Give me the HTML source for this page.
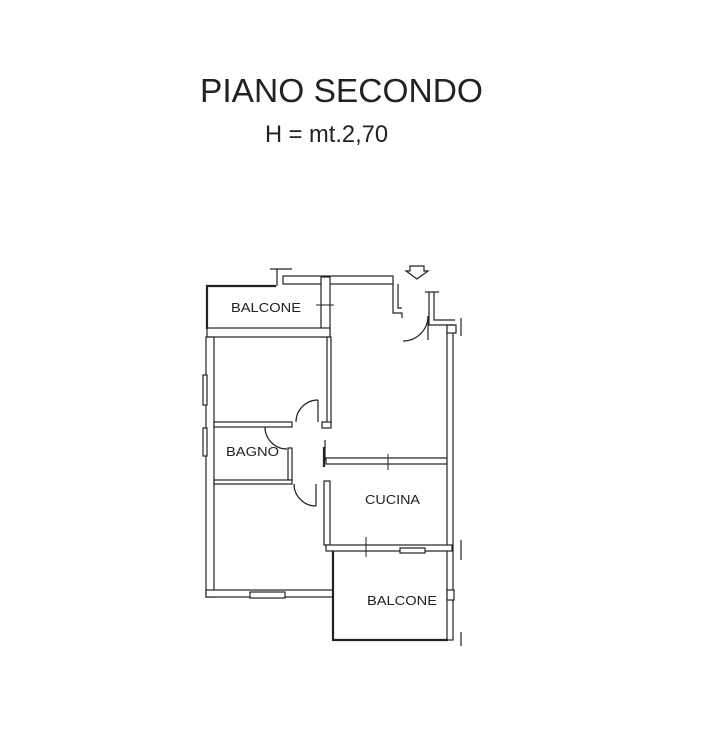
<!DOCTYPE html>
<html><head><meta charset="utf-8"><style>html,body{margin:0;padding:0;background:#fff}svg{display:block}</style></head>
<body>
<svg width="709" height="743" viewBox="0 0 709 743" xmlns="http://www.w3.org/2000/svg" font-family="Liberation Sans, sans-serif">
<text x="200" y="102" font-size="33" textLength="283" lengthAdjust="spacingAndGlyphs" fill="#222">PIANO SECONDO</text>
<text x="265" y="142" font-size="24" textLength="123" lengthAdjust="spacingAndGlyphs" fill="#222">H = mt.2,70</text>
<g fill="#fff" stroke="#222" stroke-width="1.2">
<!-- top wall -->
<rect x="283" y="276" width="110" height="8"/>
<line x1="270" y1="269" x2="292" y2="269"/>
<line x1="277" y1="269" x2="277" y2="286"/>
<!-- balcone top -->
<rect x="321" y="277" width="9" height="60"/>
<rect x="207" y="328" width="123" height="9"/>
<rect x="206" y="337" width="8" height="260"/>
<rect x="203" y="375" width="4" height="30"/>
<rect x="203" y="428" width="4" height="28"/>
<rect x="214" y="422" width="78" height="5"/>
<rect x="327" y="337" width="4" height="88"/>
<rect x="322" y="422" width="9" height="6"/>
<rect x="288" y="448" width="4" height="32"/>
<rect x="214" y="480" width="78" height="4"/>
<rect x="326" y="458" width="126" height="6"/>
<rect x="324" y="481" width="6" height="64"/>
<rect x="447" y="330" width="6" height="310"/>
<rect x="447" y="325" width="9" height="8"/>
<rect x="326" y="545" width="126" height="6"/>
<rect x="400" y="548" width="25" height="5"/>
<rect x="206" y="590" width="127" height="7"/>
<rect x="250" y="592" width="35" height="6"/>
<rect x="447" y="590" width="7" height="10"/>
<!-- entrance -->
<polyline fill="none" points="393,284 393,313 402,313 402,318"/>
<polyline fill="none" points="398,284 398,308 402,308"/>
<polyline fill="none" points="429,292 429,325 455,325"/>
<polyline fill="none" points="434,292 434,320 455,320"/>
<line x1="425" y1="292" x2="439" y2="292"/>
<line x1="461" y1="318" x2="461" y2="336"/>
<line x1="461" y1="540" x2="461" y2="560"/>
<line x1="461" y1="632" x2="461" y2="646"/>
<path fill="none" d="M403,341 A25,25 0 0 0 428,316"/>
<line x1="428" y1="316" x2="428" y2="340"/>
<!-- doors -->
<path fill="none" d="M296,422 A22,22 0 0 1 318,400"/>
<line x1="318" y1="400" x2="318" y2="422"/>
<path fill="none" d="M265,427 A22,22 0 0 0 287,449"/>
<path fill="none" d="M294,484 A22,22 0 0 0 316,506"/>
<line x1="316" y1="484" x2="316" y2="506"/>
<line x1="325" y1="440" x2="325" y2="460"/>
<polygon fill="none" points="410,266 424,266 424,271 428,271 417,279 406,271 410,271"/>
</g>
<g stroke="#222" stroke-width="2.2" fill="none">
<polyline points="207,329 207,286 276,286"/>
<polyline points="333,551 333,640 448,640"/>
<line x1="324" y1="447" x2="324" y2="467"/>
</g>
<g stroke="#222" stroke-width="1">
<line x1="316" y1="305" x2="334" y2="305"/>
<line x1="388" y1="454" x2="388" y2="470"/>
<line x1="366" y1="537" x2="366" y2="557"/>
</g>
<g font-size="13" fill="#222">
<text x="231" y="312" textLength="70" lengthAdjust="spacingAndGlyphs">BALCONE</text>
<text x="226" y="456" textLength="53" lengthAdjust="spacingAndGlyphs">BAGNO</text>
<text x="365" y="504" textLength="55" lengthAdjust="spacingAndGlyphs">CUCINA</text>
<text x="367" y="605" textLength="70" lengthAdjust="spacingAndGlyphs">BALCONE</text>
</g>
</svg>
</body></html>
